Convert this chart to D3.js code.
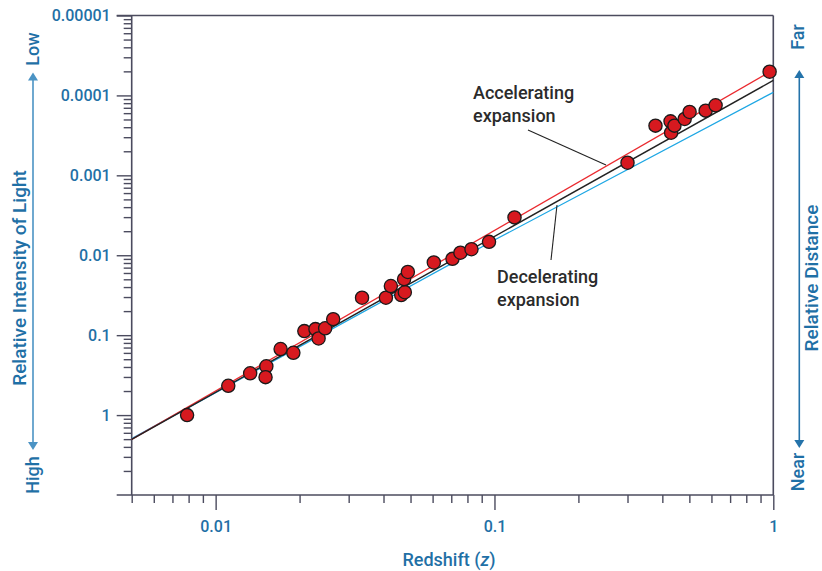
<!DOCTYPE html>
<html>
<head>
<meta charset="utf-8">
<script src="https://cdn.jsdelivr.net/npm/d3@7.9.0/dist/d3.min.js"></script>
<style>
  html, body { margin: 0; padding: 0; background: #fff; }
  svg { display: block; font-family: Roboto, "Open Sans", sans-serif; }
</style>
</head>
<body>
<svg id="chart" width="822" height="571"></svg>
<script>
// supernova observations: redshift z and relative intensity of light
const redshift = [0.0079, 0.0111, 0.0133, 0.0152, 0.0151, 0.0171, 0.0190, 0.0208, 0.0228, 0.0234,
  0.0247, 0.0264, 0.0335, 0.0408, 0.0425, 0.0463, 0.0477, 0.0474, 0.0489, 0.0606,
  0.0707, 0.0755, 0.0827, 0.0956, 0.118, 0.300, 0.378, 0.428, 0.430, 0.442,
  0.481, 0.501, 0.572, 0.621, 0.970];
const intensity = [1.0, 0.43, 0.30, 0.245, 0.335, 0.149, 0.166, 0.089, 0.084, 0.110,
  0.082, 0.063, 0.034, 0.034, 0.0243, 0.0315, 0.029, 0.0199, 0.0162, 0.0123,
  0.0111, 0.0093, 0.0084, 0.0068, 0.00336, 0.000695, 0.000239, 0.000211, 0.000293, 0.000239,
  0.000197, 0.000161, 0.000155, 0.000133, 0.0000505];

// model curves [z, intensity]
const accelerating = [[0.005, 2.01], [1, 0.000048]];
const neutral = [[0.005, 2.01], [1, 0.000065]];
const decelerating = [[0.005, 1.97], [0.1, 0.00645], [1, 0.0000915]];

const xTickLabels = ['0.01', '0.1', '1'];
const xTickValues = [0.01, 0.1, 1];
const yTickLabels = ['0.00001', '0.0001', '0.001', '0.01', '0.1', '1'];
const yTickValues = [0.00001, 0.0001, 0.001, 0.01, 0.1, 1];

const blue = '#1f70a6';
const axisColor = '#4b4b5e';

const svg = d3.select('#chart');

const plotLeft = 131.7, plotRight = 773.3, plotTop = 15.5, plotBottom = 495;

const xScale = d3.scaleLog().domain([0.005, 1]).range([plotLeft, plotRight]);
// the chart axis runs in 1/intensity, so minor ticks sit like a magnitude scale
const uScale = d3.scaleLog().domain([0.1, 1e5]).range([plotBottom, plotTop]);
const yPos = v => uScale(1 / v);

const isMajor = v => Math.abs(Math.log10(v) - Math.round(Math.log10(v))) < 1e-9;

// x axis ticks
const xMinor = xScale.ticks().filter(v => !isMajor(v) || v === 0.005);
svg.append('g')
  .attr('transform', `translate(0,${plotBottom})`)
  .call(d3.axisBottom(xScale).tickValues(xMinor).tickSize(8).tickFormat(''))
  .call(g => g.select('.domain').remove())
  .call(g => g.selectAll('line').attr('stroke', axisColor).attr('stroke-width', 1.4));

svg.append('g')
  .attr('transform', `translate(0,${plotBottom})`)
  .call(d3.axisBottom(xScale).tickValues(xTickValues).tickSize(15).tickPadding(11)
    .tickFormat((d, i) => xTickLabels[i]))
  .call(g => g.select('.domain').remove())
  .call(g => g.selectAll('line').attr('stroke', axisColor).attr('stroke-width', 1.4))
  .call(g => g.selectAll('text').attr('fill', blue).attr('font-size', 16).attr('font-weight', 500)
    .attr('font-family', 'Roboto, sans-serif'));

// y axis ticks
const yMinor = uScale.ticks().filter(v => !isMajor(v));
svg.append('g')
  .attr('transform', `translate(${plotLeft},0)`)
  .call(d3.axisLeft(uScale).tickValues(yMinor).tickSize(8).tickFormat(''))
  .call(g => g.select('.domain').remove())
  .call(g => g.selectAll('line').attr('stroke', axisColor).attr('stroke-width', 1.4));

svg.append('g')
  .attr('transform', `translate(${plotLeft},0)`)
  .call(d3.axisLeft(uScale).tickValues(yTickValues.map(v => 1 / v)).tickSize(15).tickPadding(6)
    .tickFormat((d, i) => yTickLabels[i]))
  .call(g => g.select('.domain').remove())
  .call(g => g.selectAll('line').attr('stroke', axisColor).attr('stroke-width', 1.4))
  .call(g => g.selectAll('text').attr('fill', blue).attr('font-size', 16).attr('font-weight', 500)
    .attr('font-family', 'Roboto, sans-serif'));

// frame
const frame = svg.append('g').attr('stroke', axisColor).attr('stroke-width', 1.6).attr('fill', 'none');
frame.append('line').attr('x1', plotLeft - 15).attr('x2', plotRight).attr('y1', plotTop).attr('y2', plotTop);
frame.append('line').attr('x1', plotLeft - 15).attr('x2', plotRight).attr('y1', plotBottom).attr('y2', plotBottom);
frame.append('line').attr('x1', plotLeft).attr('x2', plotLeft).attr('y1', plotTop).attr('y2', plotBottom);
frame.append('line').attr('x1', plotRight).attr('x2', plotRight).attr('y1', plotTop).attr('y2', plotBottom);

// model lines
const line = d3.line().x(d => xScale(d[0])).y(d => yPos(d[1]));
svg.append('path').datum(decelerating).attr('d', line)
  .attr('fill', 'none').attr('stroke', '#1ea7e4').attr('stroke-width', 1.3);
svg.append('path').datum(accelerating).attr('d', line)
  .attr('fill', 'none').attr('stroke', '#ea2a2f').attr('stroke-width', 1.3);
svg.append('path').datum(neutral).attr('d', line)
  .attr('fill', 'none').attr('stroke', '#222').attr('stroke-width', 1.4);

// annotations
const note = svg.append('g').attr('fill', '#2b2b2b').attr('font-size', 18).attr('font-weight', 500);
note.append('text').attr('x', 473).attr('y', 99).text('Accelerating');
note.append('text').attr('x', 473).attr('y', 122).text('expansion');
note.append('text').attr('x', 497).attr('y', 283).text('Decelerating');
note.append('text').attr('x', 497).attr('y', 306).text('expansion');
svg.append('line').attr('x1', 528).attr('y1', 130).attr('x2', 606).attr('y2', 165)
  .attr('stroke', '#222').attr('stroke-width', 1.1);
svg.append('line').attr('x1', 557).attr('y1', 205).attr('x2', 551).attr('y2', 260)
  .attr('stroke', '#222').attr('stroke-width', 1.1);

// observations
const points = redshift.map((z, i) => ({ z, v: intensity[i] }));
svg.append('g').selectAll('circle')
  .data(points)
  .join('circle')
  .attr('cx', d => xScale(d.z))
  .attr('cy', d => yPos(d.v))
  .attr('r', 6.6)
  .attr('fill', '#d7191f')
  .attr('stroke', '#1a1a1a')
  .attr('stroke-width', 1.3);

// axis titles
svg.append('text').attr('x', 449).attr('y', 566).attr('text-anchor', 'middle')
  .attr('fill', blue).attr('font-size', 18).attr('font-weight', 500)
  .html('Redshift (<tspan font-style="italic">z</tspan>)');

function vText(x, y, txt, size) {
  svg.append('text')
    .attr('transform', `translate(${x},${y}) rotate(-90)`)
    .attr('text-anchor', 'middle').attr('dominant-baseline', 'central')
    .attr('fill', blue).attr('font-size', size).attr('font-weight', 500).text(txt);
}
vText(19, 278, 'Relative Intensity of Light', 19);
vText(32, 49, 'Low', 18);
vText(32, 475, 'High', 18);
vText(811, 278, 'Relative Distance', 19);
vText(797, 37, 'Far', 18);
vText(797, 472, 'Near', 18);

// arrows
function arrow(x, y1, y2, color) {
  const g = svg.append('g').attr('fill', color);
  g.append('line').attr('x1', x).attr('x2', x).attr('y1', y1 + 6).attr('y2', y2 - 6)
    .attr('stroke', color).attr('stroke-width', 1.6);
  g.append('path').attr('d', `M${x},${y1} L${x - 5},${y1 + 8} L${x + 5},${y1 + 8} Z`);
  g.append('path').attr('d', `M${x},${y2} L${x - 5},${y2 - 8} L${x + 5},${y2 - 8} Z`);
}
arrow(33, 72.5, 450, '#4b93c4');
arrow(799.3, 70, 448, '#2473aa');
</script>
</body>
</html>
